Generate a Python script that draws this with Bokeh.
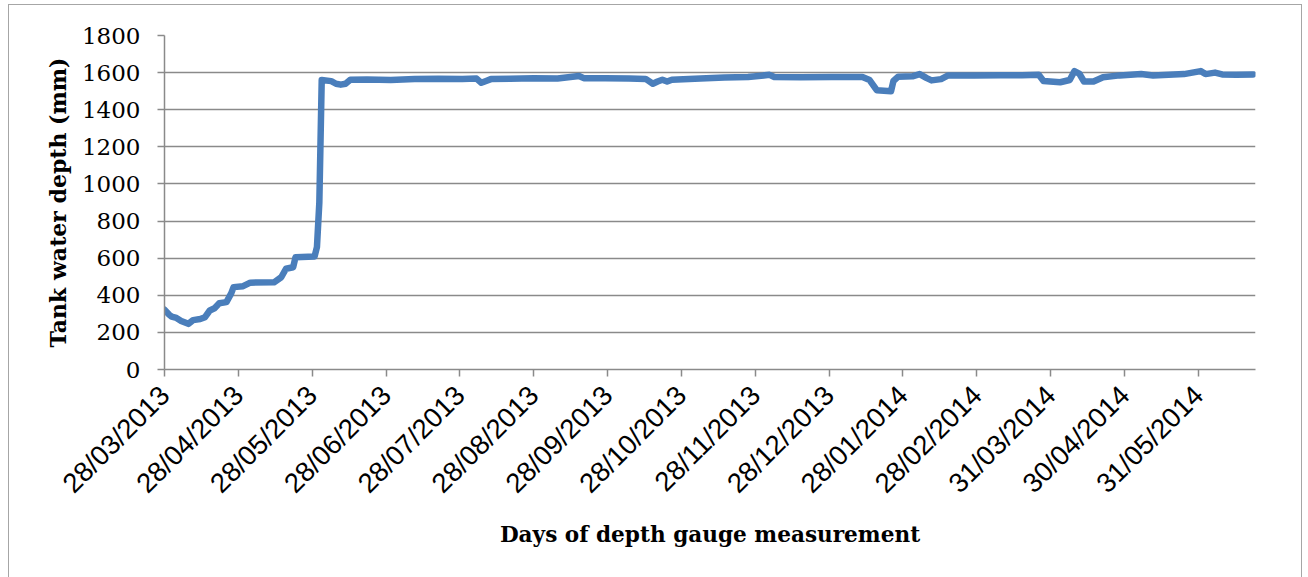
from bokeh.plotting import figure
from bokeh.models import Range1d, FixedTicker
from bokeh.embed import file_html
from bokeh.resources import INLINE

# Day index (position along the category axis) and tank water depth (mm)
day_index = [0, 2, 3, 5, 7, 10, 12, 15, 17, 19, 21, 23, 26, 28, 29, 33, 36, 46, 49, 51,
             54, 55, 63, 64, 65, 66, 70, 72, 74, 76, 78, 85, 95, 105, 115, 125, 131, 133,
             135, 137, 145, 155, 165, 174, 176, 185, 195, 202, 205, 207, 209, 211, 213,
             225, 235, 245, 254, 256, 267, 280, 293, 296, 299, 305, 306, 308, 314, 317,
             320, 322, 326, 329, 340, 351, 360, 367, 369, 376, 380, 382, 384, 386, 390,
             394, 401, 410, 415, 428, 435, 437, 441, 444, 450, 457]
depth_mm = [322, 295, 285, 278, 262, 246, 266, 272, 282, 318, 330, 357, 363, 410, 444, 449,
            468, 470, 497, 543, 551, 605, 609, 660, 900, 1560, 1554, 1540, 1535, 1540, 1561,
            1563, 1560, 1565, 1567, 1566, 1568, 1545, 1555, 1565, 1567, 1570, 1568, 1582,
            1570, 1570, 1568, 1566, 1540, 1552, 1562, 1552, 1562, 1568, 1574, 1576, 1588,
            1576, 1575, 1577, 1576, 1560, 1505, 1500, 1555, 1578, 1580, 1592, 1570, 1558,
            1565, 1585, 1585, 1586, 1586, 1588, 1555, 1548, 1560, 1608, 1595, 1552, 1552,
            1575, 1585, 1592, 1585, 1592, 1608, 1592, 1600, 1590, 1588, 1590]

tick_positions = [0, 31, 62, 93, 124, 155, 186, 217, 248, 279, 310, 341, 372, 403, 434]
tick_labels = ["28/03/2013", "28/04/2013", "28/05/2013", "28/06/2013", "28/07/2013",
               "28/08/2013", "28/09/2013", "28/10/2013", "28/11/2013", "28/12/2013",
               "28/01/2014", "28/02/2014", "31/03/2014", "30/04/2014", "31/05/2014"]
y_ticks = [0, 200, 400, 600, 800, 1000, 1200, 1400, 1600, 1800]

GRID = "#8a8a8a"

p = figure(width=1294, height=574, output_backend="svg", toolbar_location=None,
           x_range=Range1d(0, 458), y_range=Range1d(0, 1800),
           min_border_left=155, min_border_right=48, min_border_top=30, min_border_bottom=210)
p.styles = {"border": "1px solid #a6a6a6", "margin-left": "8px", "margin-top": "4px"}
p.outline_line_color = None

p.line(day_index, depth_mm, line_color="#4a7ebb", line_width=6.5, line_join="round",
       line_cap="round")

# x axis
xa = p.xaxis[0]
xa.ticker = FixedTicker(ticks=tick_positions)
xa.major_label_overrides = {t: l for t, l in zip(tick_positions, tick_labels)}
xa.major_label_orientation = 0.7854
xa.major_label_text_font = "Liberation Sans"
xa.major_label_text_font_size = "27.5px"
xa.major_label_text_color = "black"
xa.major_label_standoff = 14
xa.minor_tick_line_color = None
xa.major_tick_in = 0
xa.major_tick_out = 7
xa.major_tick_line_color = GRID
xa.major_tick_line_width = 1.5
xa.axis_line_color = GRID
xa.axis_line_width = 1.5
xa.axis_label = "Days of depth gauge measurement"
xa.axis_label_text_font = "DejaVu Serif"
xa.axis_label_text_font_style = "bold"
xa.axis_label_text_font_size = "21.6px"
xa.axis_label_text_color = "black"
xa.axis_label_standoff = 9

# y axis
ya = p.yaxis[0]
ya.ticker = FixedTicker(ticks=y_ticks)
ya.major_label_text_font = "DejaVu Serif"
ya.major_label_text_font_size = "23px"
ya.major_label_text_color = "black"
ya.major_label_standoff = 17
ya.minor_tick_line_color = None
ya.major_tick_in = 0
ya.major_tick_out = 7
ya.major_tick_line_color = GRID
ya.major_tick_line_width = 1.5
ya.axis_line_color = GRID
ya.axis_line_width = 1.5
ya.axis_label = "Tank water depth (mm)"
ya.axis_label_text_font = "DejaVu Serif"
ya.axis_label_text_font_style = "bold"
ya.axis_label_text_font_size = "22px"
ya.axis_label_text_color = "black"
ya.axis_label_standoff = 8

p.xgrid.grid_line_color = None
p.ygrid.ticker = FixedTicker(ticks=y_ticks)
p.ygrid.grid_line_color = GRID
p.ygrid.grid_line_width = 1.5

open("out.html", "w").write(file_html(p, INLINE))
